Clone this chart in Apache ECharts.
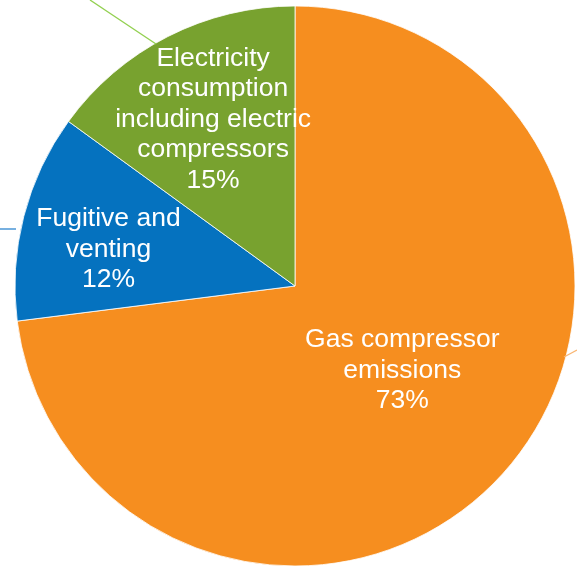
<!DOCTYPE html>
<html>
<head>
<meta charset="utf-8">
<style>
  html, body { margin: 0; padding: 0; background: #ffffff; }
  #chart { width: 577px; height: 568px; }
</style>
<script src="https://cdn.jsdelivr.net/npm/echarts@6/dist/echarts.min.js"></script>
</head>
<body>
<div id="chart"></div>
<script>
// Emission sources, clockwise from 12 o'clock
const categories = [
  'Gas compressor\nemissions',
  'Fugitive and\nventing',
  'Electricity\nconsumption\nincluding electric\ncompressors'
];
const shares = [73, 12, 15];
const sliceColors = ['#F68E1F', '#0572BF', '#78A22F'];
// Nudges of each label away from the slice's default inside spot
const labelShift = [[0, -10], [-48, -1], [-17, -39]];

const chart = echarts.init(document.getElementById('chart'), null, { renderer: 'canvas' });

chart.setOption({
  animation: false,
  backgroundColor: '#ffffff',
  graphic: [
    // fragments of leader lines running in from beyond the frame
    { type: 'line', shape: { x1: 90, y1: 0, x2: 156, y2: 44 }, style: { stroke: '#92D050', lineWidth: 1.3 }, z: 10 },
    { type: 'line', shape: { x1: 0, y1: 229, x2: 16, y2: 229 }, style: { stroke: '#2E86CF', lineWidth: 1.3 }, z: 10 },
    { type: 'line', shape: { x1: 564, y1: 357, x2: 577, y2: 350 }, style: { stroke: '#F9B673', lineWidth: 1.3 }, z: 10 }
  ],
  series: [{
    type: 'pie',
    center: [295, 286],
    radius: [0, 280],
    startAngle: 90,
    clockwise: true,
    avoidLabelOverlap: false,
    itemStyle: { borderColor: '#ffffff', borderWidth: 0.8 },
    label: {
      show: true,
      position: 'inside',
      formatter: '{b}\n{d}%',
      color: '#ffffff',
      fontFamily: 'Liberation Sans, Arial, sans-serif',
      fontSize: 26.5,
      lineHeight: 30.5,
      align: 'center'
    },
    labelLine: { show: false },
    labelLayout: function (params) {
      const s = labelShift[params.dataIndex];
      return { dx: s[0], dy: s[1] };
    },
    emphasis: { disabled: true },
    data: categories.map((name, i) => ({
      name: name,
      value: shares[i],
      itemStyle: { color: sliceColors[i] }
    }))
  }]
});
</script>
</body>
</html>
